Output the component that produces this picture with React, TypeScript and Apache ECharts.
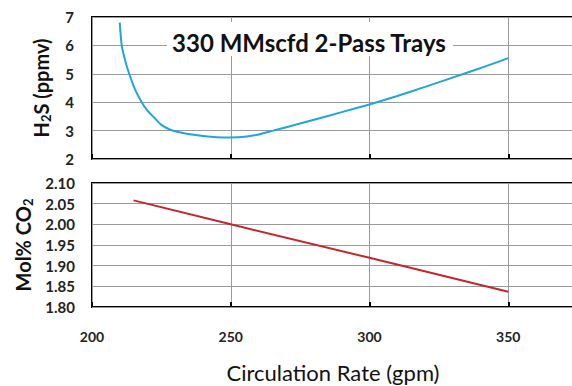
import React, { useEffect, useRef } from "react";
import * as echarts from "echarts";

const rateH2S = [210, 210.7, 212, 213.4, 215.5, 217.9, 220, 222.5, 225, 228, 232, 236, 240, 245, 250, 255, 260, 265, 270, 280, 290, 300, 310, 320, 334, 342, 350];
const h2sPpmv = [6.8, 6.0, 5.45, 5.0, 4.45, 4.0, 3.7, 3.45, 3.2, 3.04, 2.93, 2.86, 2.81, 2.77, 2.76, 2.78, 2.86, 2.99, 3.12, 3.38, 3.65, 3.92, 4.22, 4.54, 5.0, 5.27, 5.55];
const rateCO2 = [215, 250, 300, 350];
const co2Mol = [2.058, 2.0, 1.919, 1.837];
const xTicks = [200, 250, 300, 350, 400];
const h2sTicks = [2, 3, 4, 5, 6, 7];
const co2Ticks = [1.8, 1.85, 1.9, 1.95, 2.0, 2.05, 2.1];
const titleText = "330 MMscfd 2-Pass Trays";
const xTitle = "Circulation Rate (gpm)";

const FONT = "Lato";

export default function App() {
  const ref = useRef<HTMLDivElement>(null);
  useEffect(() => {
    if (!ref.current) return;
    const chart = echarts.init(ref.current, null, { renderer: "svg" });
    const gridCommon = {
      show: true,
      borderColor: "#000",
      borderWidth: 2,
      backgroundColor: "transparent",
    };
    const xCommon = (showLabels: boolean, idx: number) => ({
      type: "value" as const,
      gridIndex: idx,
      min: xTicks[0],
      max: xTicks[xTicks.length - 1],
      interval: 50,
      axisLine: { show: false },
      axisTick: { show: true, inside: true, length: 5, lineStyle: { color: "#000", width: 2 } },
      splitLine: { show: true, lineStyle: { color: "#9a9a9a", width: 1 } },
      axisLabel: {
        show: showLabels,
        showMaxLabel: false,
        margin: 22,
        fontFamily: FONT,
        fontWeight: "bold" as const,
        fontSize: 14,
        color: "#222",
      },
    });
    const nameRich = {
      m: { fontFamily: FONT, fontWeight: "bold", fontSize: 20, color: "#111" },
      s: { fontFamily: FONT, fontWeight: "bold", fontSize: 13, color: "#111", verticalAlign: "bottom", padding: [9, 0, 0, 0] },
    };
    chart.setOption({
      animation: false,
      textStyle: { fontFamily: FONT },
      grid: [
        { ...gridCommon, left: 92, top: 17, width: 555, height: 142 },
        { ...gridCommon, left: 92, top: 183, width: 555, height: 124 },
      ],
      xAxis: [xCommon(false, 0), xCommon(true, 1)],
      yAxis: [
        {
          type: "value",
          gridIndex: 0,
          min: h2sTicks[0],
          max: h2sTicks[h2sTicks.length - 1],
          interval: 1,
          axisLine: { show: false },
          axisTick: { show: false },
          splitLine: { show: true, lineStyle: { color: "#9a9a9a", width: 1 } },
          axisLabel: { margin: 18, fontFamily: FONT, fontWeight: "bold", fontSize: 15, color: "#222" },
          name: "{m|H}{s|2}{m|S (ppmv)}",
          nameLocation: "middle",
          nameRotate: 90,
          nameGap: 40,
          nameTextStyle: { rich: nameRich },
        },
        {
          type: "value",
          gridIndex: 1,
          min: co2Ticks[0],
          max: co2Ticks[co2Ticks.length - 1],
          interval: 0.05,
          axisLine: { show: false },
          axisTick: { show: false },
          splitLine: { show: true, lineStyle: { color: "#9a9a9a", width: 1 } },
          axisLabel: {
            margin: 17,
            fontFamily: FONT,
            fontWeight: "bold",
            fontSize: 15,
            color: "#222",
            formatter: (v: number) => v.toFixed(2),
          },
          name: "{m|Mol% CO}{s|2}",
          nameLocation: "middle",
          nameRotate: 90,
          nameGap: 56,
          nameTextStyle: { rich: nameRich },
        },
      ],
      graphic: [
        {
          type: "rect",
          shape: { x: 167, y: 22, width: 286, height: 34 },
          style: { fill: "#fff" },
          z: 10,
        },
        {
          type: "text",
          x: 309,
          y: 42,
          z: 11,
          style: {
            text: titleText,
            fontFamily: FONT,
            fontWeight: "bold",
            fontSize: 24,
            fill: "#111",
            align: "center",
            verticalAlign: "middle",
          },
        },
        {
          type: "text",
          x: 333,
          y: 372,
          style: {
            text: xTitle,
            fontFamily: FONT,
            fontSize: 22,
            fill: "#111",
            align: "center",
            verticalAlign: "middle",
          },
        },
      ],
      series: [
        {
          type: "line",
          xAxisIndex: 0,
          yAxisIndex: 0,
          data: rateH2S.map((x, i) => [x, h2sPpmv[i]]),
          smooth: 0.2,
          showSymbol: false,
          lineStyle: { color: "#1fa5e0", width: 2 },
          z: 5,
        },
        {
          type: "line",
          xAxisIndex: 1,
          yAxisIndex: 1,
          data: rateCO2.map((x, i) => [x, co2Mol[i]]),
          showSymbol: false,
          lineStyle: { color: "#c1272d", width: 2 },
          z: 5,
        },
      ],
    });
    return () => chart.dispose();
  }, []);
  return (
    <div style={{ position: "fixed", left: 0, top: 0, width: 572, height: 386, overflow: "hidden", background: "#fff" }}>
      <div ref={ref} style={{ width: 700, height: 386 }} />
    </div>
  );
}
